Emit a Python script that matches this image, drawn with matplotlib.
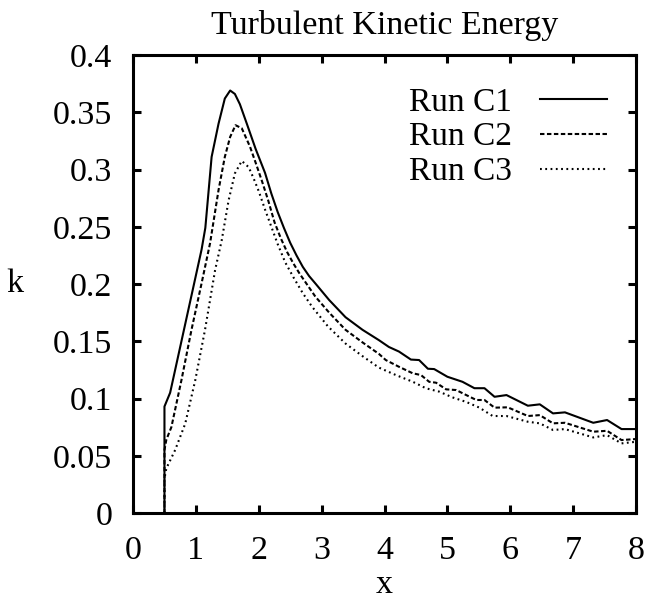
import matplotlib.pyplot as plt

plt.rcParams['font.family'] = ['Liberation Serif', 'DejaVu Serif']
plt.rcParams['lines.scale_dashes'] = False

# Run C1
x1 = [0.5, 0.5, 0.59, 1.09, 1.15, 1.25, 1.36, 1.46, 1.545, 1.62, 1.7, 1.81, 1.95,
      2.1, 2.2, 2.3, 2.4, 2.5, 2.6, 2.7, 2.8, 2.9, 3.12, 3.38, 3.65, 3.91, 4.07, 4.23, 4.42,
      4.55, 4.69, 4.79, 5.0, 5.24, 5.43, 5.59, 5.75, 5.94, 6.28, 6.47, 6.68, 6.87,
      7.32, 7.54, 7.77, 8.0]
k1 = [0, 0.093, 0.105, 0.23, 0.249, 0.311, 0.340, 0.362, 0.369, 0.366, 0.357, 0.340, 0.318,
      0.297, 0.279, 0.263, 0.249, 0.236, 0.225, 0.215, 0.207, 0.2005, 0.186, 0.171, 0.160, 0.151,
      0.145, 0.141, 0.134,
      0.1336, 0.126, 0.1257, 0.119, 0.1146, 0.109, 0.109, 0.1015, 0.103, 0.0937, 0.0949, 0.087, 0.0879,
      0.0788, 0.0812, 0.0733, 0.0733]

# Run C2
x2 = [0.5, 0.5, 0.53, 0.61, 0.77, 0.93, 1.09, 1.225, 1.36, 1.46, 1.545, 1.63, 1.73,
      1.86, 1.95, 2.05, 2.15, 2.25, 2.35, 2.45, 2.55, 2.65, 2.75, 2.9, 3.12, 3.38, 3.65,
      3.91, 4.02, 4.23, 4.45, 4.58, 4.71, 4.82, 4.98, 5.14, 5.30, 5.46, 5.59, 5.75,
      5.96, 6.28, 6.47, 6.68, 6.87, 7.32, 7.54, 7.77, 8.0]
k2 = [0, 0.055, 0.064, 0.075, 0.116, 0.16, 0.2005, 0.2355, 0.282, 0.311, 0.3285, 0.3387, 0.336,
      0.32, 0.306, 0.290, 0.273, 0.254, 0.240, 0.228, 0.218, 0.209, 0.201, 0.189, 0.175, 0.160, 0.149,
      0.139, 0.1336, 0.1277, 0.122, 0.1205, 0.1146, 0.1138, 0.108, 0.1074, 0.103, 0.0987, 0.0987, 0.092,
      0.0923, 0.0847, 0.0855, 0.0783, 0.0788, 0.071, 0.0718, 0.0637, 0.0646]

# Run C3
x3 = [0.5, 0.5, 0.53, 0.67, 0.83, 0.99, 1.145, 1.305, 1.41, 1.52, 1.62, 1.73, 1.84,
      1.92, 2.0, 2.1, 2.2, 2.3, 2.42, 2.55, 2.7, 2.85, 3.1, 3.38, 3.65, 3.91, 4.18,
      4.45, 4.66, 4.87, 5.08, 5.30, 5.51, 5.72, 5.94, 6.28, 6.47, 6.68, 6.87, 7.32,
      7.54, 7.77, 8.0]
k3 = [0, 0.03, 0.039, 0.055, 0.078, 0.116, 0.16, 0.212, 0.238, 0.273, 0.2966, 0.3075, 0.302,
      0.292, 0.281, 0.265, 0.250, 0.235, 0.219, 0.206, 0.192, 0.180, 0.163, 0.148, 0.137, 0.127, 0.1205,
      0.1146, 0.1089, 0.106, 0.101, 0.097, 0.092, 0.0847, 0.0847, 0.0797, 0.0783, 0.0725, 0.0733, 0.066,
      0.068, 0.0608, 0.0622]

xticks = [0, 1, 2, 3, 4, 5, 6, 7, 8]
yticks = [0, 0.05, 0.1, 0.15, 0.2, 0.25, 0.3, 0.35, 0.4]
yticklabels = ['0', '0.05', '0.1', '0.15', '0.2', '0.25', '0.3', '0.35', '0.4']

fs = 24.5
fs_leg = 24

fig = plt.figure(figsize=(6.47, 6.0), dpi=100)
ax = fig.add_axes([0.2056, 0.145, 0.7774, 0.7633])

ax.plot(x1, k1, color='black', linewidth=1.5, linestyle='-', label='Run C1')
ax.plot(x2, k2, color='black', linewidth=1.5, dashes=(3.2, 1.8), label='Run C2')
ax.plot(x3, k3, color='black', linewidth=1.5, dashes=(1.3, 2.5), label='Run C3')

ax.set_xlim(0, 8)
ax.set_ylim(0, 0.4)
ax.set_xticks(xticks)
ax.set_yticks(yticks)
ax.set_yticklabels(yticklabels)

for s in ax.spines.values():
    s.set_linewidth(2.2)
ax.tick_params(direction='in', length=6, width=2.2, top=True, right=True,
               labelsize=fs)
ax.tick_params(axis='x', pad=16)
ax.tick_params(axis='y', pad=15)

ax.set_title('Turbulent Kinetic Energy', fontsize=fs, pad=15)
ax.set_xlabel('x', fontsize=fs)
ax.set_ylabel('k', fontsize=fs, rotation=0, va='center', ha='center')
ax.xaxis.set_label_coords(0.5, -0.124)
ax.yaxis.set_label_coords(-0.235, 0.5)

ax.legend(loc='upper right', bbox_to_anchor=(0.942, 0.93), frameon=False,
          fontsize=fs_leg, markerfirst=False, handlelength=2.0, handletextpad=0.85,
          labelspacing=0.13, borderpad=0, borderaxespad=0)

plt.savefig('out.png', dpi=100)
